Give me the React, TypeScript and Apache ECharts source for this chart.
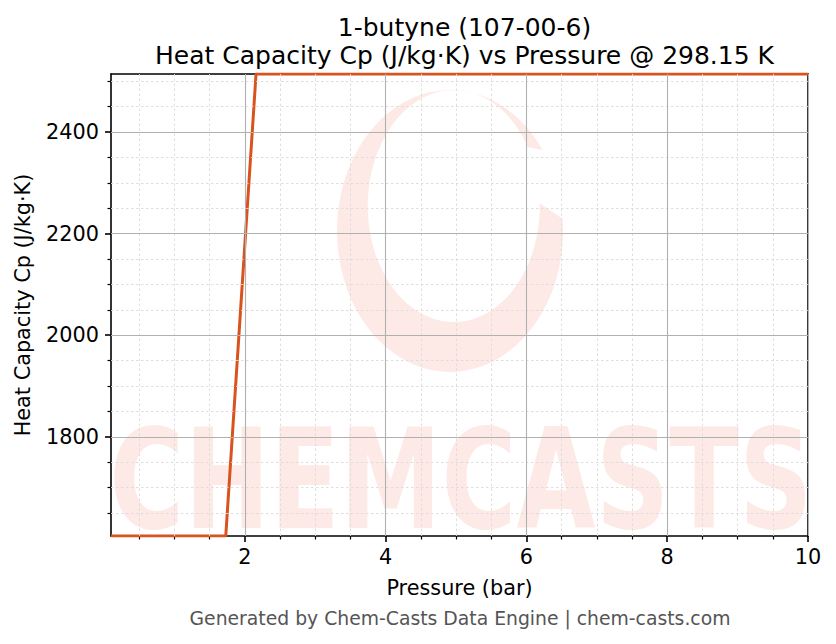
import React, { useEffect, useRef } from 'react';
import * as echarts from 'echarts';

const pressure = [0.1, 1.73, 2.16, 10];
const cp = [1605, 1605, 2514, 2514];
const xMin = 0.1;
const xMax = 10;
const yMin = 1605;
const yMax = 2514;
const xMajorTicks = [2, 4, 6, 8, 10];
const xMinorTicks = [0.5, 1, 1.5, 2.5, 3, 3.5, 4.5, 5, 5.5, 6.5, 7, 7.5, 8.5, 9, 9.5];
const yMajorTicks = [1800, 2000, 2200, 2400];
const yMinorTicks = [1650, 1700, 1750, 1850, 1900, 1950, 2050, 2100, 2150, 2250, 2300, 2350, 2450, 2500];
const titleLines = ['1-butyne (107-00-6)', 'Heat Capacity Cp (J/kg·K) vs Pressure @ 298.15 K'];
const xName = 'Pressure (bar)';
const yName = 'Heat Capacity Cp (J/kg·K)';
const footer = 'Generated by Chem-Casts Data Engine | chem-casts.com';
const watermark = 'CHEMCASTS';

const FONT = "'DejaVu Sans', sans-serif";
const PINK = 'rgba(240, 60, 40, 0.11)';

const swirlD =
  'M562.6 218.7 A113 141 0 1 1 542.6 150.1 L527.8 147.1 A86 116 0 1 0 539.7 203.2 Z';
let registered = false;
function registerSwirl() {
  if (registered) return;
  echarts.graphic.registerShape('swirl', echarts.graphic.extendPath(swirlD, {}) as any);
  registered = true;
}

export default function App() {
  const ref = useRef<HTMLDivElement>(null);
  useEffect(() => {
    if (!ref.current) return;
    registerSwirl();
    const chart = echarts.init(ref.current, null, { renderer: 'svg' });
    const gridRect = { left: 111, top: 74, width: 697, height: 462 };
    const spine = { color: '#000', width: 1.6 };
    const majorGrid = { color: '#b0b0b0', width: 1.1, type: 'solid' };
    const minorGrid = { color: '#dadada', width: 0.9, type: [2.5, 2.5] };
    const option: any = {
      animation: false,
      backgroundColor: '#fff',
      title: {
        text: titleLines.join('\n'),
        left: 459.5,
        top: 8,
        textAlign: 'center',
        textStyle: { fontSize: 25, fontWeight: 'normal', lineHeight: 28, color: '#000', fontFamily: FONT },
      },
      grid: [
        { ...gridRect, containLabel: false },
        { ...gridRect, containLabel: false },
      ],
      xAxis: [
        {
          gridIndex: 0,
          type: 'value',
          min: xMin,
          max: xMax,
          position: 'bottom',
          axisLine: { show: true, onZero: false, lineStyle: spine },
          axisTick: { show: true, customValues: xMajorTicks, length: 6, lineStyle: spine },
          axisLabel: {
            show: true,
            customValues: xMajorTicks,
            fontSize: 20.8,
            color: '#000',
            fontFamily: FONT,
            margin: 10,
            formatter: (v: number) => String(v),
          },
          splitLine: { show: false },
          name: xName,
          nameLocation: 'middle',
          nameGap: 41,
          nameTextStyle: { fontSize: 20.8, color: '#000', fontFamily: FONT },
        },
        {
          gridIndex: 0,
          type: 'value',
          min: xMin,
          max: xMax,
          position: 'top',
          axisLine: { show: true, onZero: false, lineStyle: spine },
          axisTick: { show: false },
          axisLabel: { show: false },
          splitLine: { show: false },
        },
        {
          gridIndex: 1,
          type: 'value',
          min: xMin,
          max: xMax,
          position: 'bottom',
          axisLine: { show: false, onZero: false },
          axisTick: { show: true, customValues: xMinorTicks, length: 3.5, lineStyle: { color: '#000', width: 1.2 } },
          axisLabel: { show: false },
          splitLine: { show: false },
        },
      ],
      yAxis: [
        {
          gridIndex: 0,
          type: 'value',
          min: yMin,
          max: yMax,
          position: 'left',
          axisLine: { show: true, onZero: false, lineStyle: spine },
          axisTick: { show: true, customValues: yMajorTicks, length: 6, lineStyle: spine },
          axisLabel: {
            show: true,
            customValues: yMajorTicks,
            fontSize: 20.8,
            color: '#000',
            fontFamily: FONT,
            margin: 12,
            formatter: (v: number) => String(v),
          },
          splitLine: { show: false },
          name: yName,
          nameLocation: 'middle',
          nameGap: 78,
          nameTextStyle: { fontSize: 20.8, color: '#000', fontFamily: FONT },
        },
        {
          gridIndex: 0,
          type: 'value',
          min: yMin,
          max: yMax,
          position: 'right',
          axisLine: { show: true, onZero: false, lineStyle: spine },
          axisTick: { show: false },
          axisLabel: { show: false },
          splitLine: { show: false },
        },
        {
          gridIndex: 1,
          type: 'value',
          min: yMin,
          max: yMax,
          position: 'left',
          axisLine: { show: false, onZero: false },
          axisTick: { show: true, customValues: yMinorTicks, length: 3.5, lineStyle: { color: '#000', width: 1.2 } },
          axisLabel: { show: false },
          splitLine: { show: false },
        },
      ],
      graphic: [
        { type: 'swirl', silent: true, z: 0, style: { fill: PINK } },
        {
          type: 'text',
          silent: true,
          x: 461,
          y: 479,
          scaleX: 0.71,
          scaleY: 0.97,
          z: 0,
          style: {
            text: watermark,
            fontSize: 144,
            fontWeight: 'bold',
            fontFamily: FONT,
            fill: PINK,
            align: 'center',
            verticalAlign: 'middle',
          },
        },
        {
          type: 'text',
          silent: true,
          x: 460,
          y: 618,
          style: {
            text: footer,
            fontSize: 18.8,
            fontFamily: FONT,
            fill: '#555',
            align: 'center',
            verticalAlign: 'middle',
          },
        },
      ],
      series: [
        {
          type: 'line',
          xAxisIndex: 0,
          yAxisIndex: 0,
          data: [],
          silent: true,
          z: 1,
          markLine: {
            silent: true,
            symbol: ['none', 'none'],
            label: { show: false },
            animation: false,
            data: [
              ...xMinorTicks.map((v) => ({ xAxis: v, lineStyle: minorGrid })),
              ...yMinorTicks.map((v) => ({ yAxis: v, lineStyle: minorGrid })),
              ...xMajorTicks.map((v) => ({ xAxis: v, lineStyle: majorGrid })),
              ...yMajorTicks.map((v) => ({ yAxis: v, lineStyle: majorGrid })),
            ],
          },
        },
        {
          type: 'line',
          xAxisIndex: 0,
          yAxisIndex: 0,
          data: pressure.map((p, i) => [p, cp[i]]),
          showSymbol: false,
          symbol: 'none',
          silent: true,
          z: 3,
          lineStyle: { color: '#d9531e', width: 3 },
        },
      ],
    };
    chart.setOption(option);
    return () => chart.dispose();
  }, []);
  return (
    <div
      ref={ref}
      style={{ position: 'fixed', left: 0, top: 0, width: 836, height: 644, background: '#fff' }}
    />
  );
}
